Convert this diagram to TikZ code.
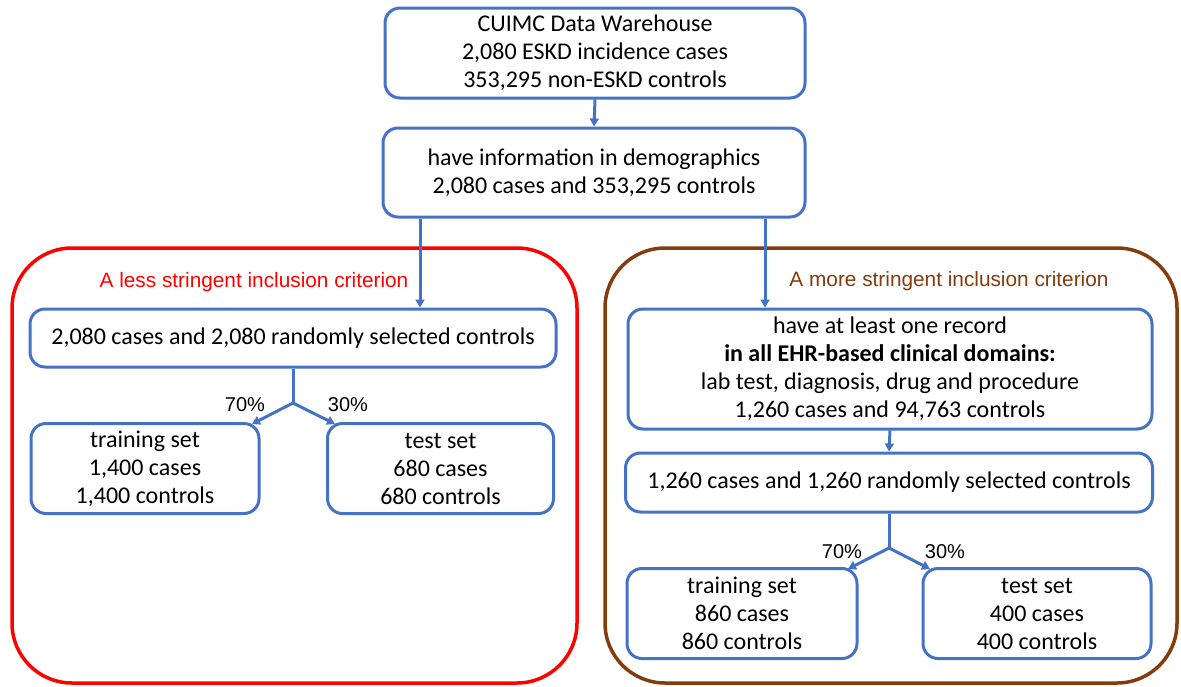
\documentclass[tikz,border=0pt]{standalone}
\usepackage{fontspec}
\setmainfont{Carlito}
\newfontfamily\arialfont{Liberation Sans}
\usetikzlibrary{arrows.meta}
\definecolor{boxblue}{HTML}{4472C4}
\definecolor{critred}{HTML}{FF0000}
\definecolor{critbrown}{HTML}{843C0C}
\tikzset{
  x=1pt, y=-1pt,
  stepbox/.style={draw=boxblue, line width=3pt, rounded corners=15pt,
    align=center, inner sep=0pt, font=\fontsize{24}{28}\selectfont},
  frame/.style={line width=3.5pt, rounded corners=60pt},
  arr/.style={draw=boxblue, line width=3pt, -{Triangle[length=8pt,width=9pt]}},
  link/.style={draw=boxblue, line width=3pt},
  pct/.style={font=\arialfont\fontsize{20}{24}\selectfont, inner sep=0pt},
  crit/.style={font=\arialfont\fontsize{20.8}{24}\selectfont, inner sep=0pt},
}
\begin{document}
\begin{tikzpicture}
\useasboundingbox (0,0) rectangle (1181,686);
\fill[white] (0,0) rectangle (1181,686);

% criterion frames
\draw[frame, draw=critred] (12,248) rectangle (577,683);
\draw[frame, draw=critbrown] (605,248) rectangle (1177,683);
\node[crit, text=critred] (lesst) at (254,282) {A less stringent inclusion criterion};
\node[crit, text=critbrown] (moret) at (949,281) {A more stringent inclusion criterion};

% source population
\node[stepbox, minimum width=420pt, minimum height=90pt] (src) at (595,53)
  {CUIMC Data Warehouse\\2,080 ESKD incidence cases\\353,295 non-ESKD controls};
\node[stepbox, minimum width=422pt, minimum height=89pt] (demo) at (594,172.5)
  {have information in demographics\\2,080 cases and 353,295 controls};

% less stringent branch
\node[stepbox, minimum width=526pt, minimum height=58pt] (lsel) at (293,338)
  {2,080 cases and 2,080 randomly selected controls};
\node[stepbox, minimum width=228pt, minimum height=90pt] (ltrain) at (145,468.5)
  {training set\\1,400 cases\\1,400 controls};
\node[stepbox, minimum width=226pt, minimum height=90pt] (ltest) at (440.5,468.5)
  {test set\\680 cases\\680 controls};

% more stringent branch
\node[stepbox, minimum width=524pt, minimum height=120pt] (rec) at (890,369)
  {have at least one record\\\textbf{in all EHR-based clinical domains:}\\lab test, diagnosis, drug and procedure\\1,260 cases and 94,763 controls};
\node[stepbox, minimum width=527pt, minimum height=59pt] (rsel) at (889,482.5)
  {1,260 cases and 1,260 randomly selected controls};
\node[stepbox, minimum width=230pt, minimum height=90pt] (rtrain) at (742,613.5)
  {training set\\860 cases\\860 controls};
\node[stepbox, minimum width=228pt, minimum height=90pt] (rtest) at (1037,613.5)
  {test set\\400 cases\\400 controls};

% connector anchor points
\coordinate (lx) at (420,0);
\coordinate (rx) at (765,0);
\coordinate (lsplit) at (293,403);
\coordinate (ltrin) at (252,424);
\coordinate (ltein) at (335,424);
\coordinate (rsplit) at (889,548);
\coordinate (rtrin) at (848,569);
\coordinate (rtein) at (930,569);

% connectors
\draw[arr] (src.south) -- (demo.north);
\draw[arr] (demo.south -| lx) -- (lsel.north -| lx);
\draw[arr] (demo.south -| rx) -- (rec.north -| rx);
\draw[arr] (rec.south) -- (rsel.north);

\draw[link] (lsel.south) -- (lsplit);
\draw[arr] (lsplit) -- (ltrin);
\draw[arr] (lsplit) -- (ltein);
\draw[link] (rsel.south -| rsplit) -- (rsplit);
\draw[arr] (rsplit) -- (rtrin);
\draw[arr] (rsplit) -- (rtein);

% split ratios
\node[pct] (l70) at (245,405) {70\%};
\node[pct] (l30) at (348,405) {30\%};
\node[pct] (r70) at (842,552) {70\%};
\node[pct] (r30) at (945,552) {30\%};
\end{tikzpicture}
\end{document}
